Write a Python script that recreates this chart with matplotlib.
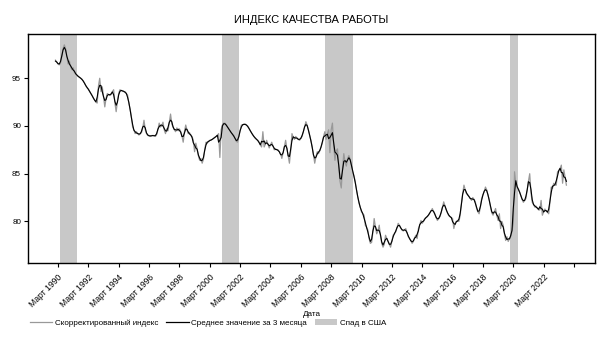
"""Job quality index chart (Russian labels), monthly 1990-2023."""

import matplotlib

matplotlib.use("Agg")
import matplotlib.pyplot as plt
import matplotlib.transforms as mtransforms
import numpy as np
import pandas as pd
from matplotlib.lines import Line2D
from matplotlib.patches import Patch

plt.rcParams["font.family"] = ["Liberation Sans", "DejaVu Sans"]

START_YEAR = 1990

# adjusted index, monthly values, one row per year (Jan..Dec)
adjusted_index = [
    96.9, 96.7, 96.5, 96.4, 96.6, 97.3, 98.1, 98.5, 98.1, 97.3, 96.5, 96.8,  # 1990
    96.2, 95.9, 96.1, 95.6, 95.5, 95.3, 95.2, 95.1, 95.0, 94.9, 94.7, 94.5,  # 1991
    94.2, 94.0, 93.9, 93.6, 93.4, 93.2, 92.9, 92.7, 92.5, 92.4, 94.2, 95.0,  # 1992
    93.6, 94.1, 93.1, 92.0, 92.9, 93.4, 93.3, 93.2, 93.3, 93.6, 93.8, 92.4,  # 1993
    91.5, 92.6, 93.4, 93.8, 93.7, 93.7, 93.6, 93.6, 93.4, 93.25, 92.4, 91.8,  # 1994
    91.0, 89.9, 89.6, 89.2, 89.4, 89.2, 89.05, 89.2, 89.3, 89.8, 90.6, 89.6,  # 1995
    89.2, 89.0, 89.0, 88.9, 89.0, 89.0, 89.0, 88.9, 89.1, 89.6, 90.3, 89.9,  # 1996
    90.0, 90.4, 89.6, 89.2, 89.7, 89.5, 90.4, 91.25, 90.2, 89.9, 89.6, 89.4,  # 1997
    89.8, 89.5, 89.7, 89.4, 89.0, 88.3, 89.4, 90.1, 89.6, 89.2, 89.3, 89.0,  # 1998
    88.9, 88.5, 87.3, 88.2, 87.6, 86.9, 86.4, 86.6, 86.1, 86.5, 87.5, 88.3,  # 1999
    88.2, 88.4, 88.5, 88.5, 88.6, 88.7, 88.8, 88.9, 89.0, 89.2, 86.7, 89.6,  # 2000
    90.1, 90.3, 90.3, 90.1, 89.9, 89.7, 89.5, 89.3, 89.1, 89.0, 88.7, 88.4,  # 2001
    88.3, 88.9, 89.5, 90.1, 90.1, 90.2, 90.2, 90.1, 90.0, 89.75, 89.5, 89.3,  # 2002
    89.05, 88.9, 88.7, 88.6, 88.5, 88.3, 88.0, 87.8, 89.4, 87.8, 88.1, 88.5,  # 2003
    88.1, 87.7, 88.0, 88.3, 87.9, 87.5, 87.6, 87.5, 87.5, 87.3, 87.1, 86.6,  # 2004
    87.2, 87.8, 88.5, 87.6, 86.9, 86.1, 87.4, 89.2, 88.8, 88.6, 88.9, 88.7,  # 2005
    88.6, 88.5, 88.7, 88.9, 89.4, 89.9, 90.45, 90.1, 89.6, 89.0, 88.5, 87.8,  # 2006
    87.0, 86.1, 86.8, 87.3, 87.1, 87.4, 87.8, 88.2, 88.9, 89.4, 88.6, 89.2,  # 2007
    89.6, 87.2, 89.6, 90.3, 88.0, 86.4, 87.4, 87.6, 85.8, 84.2, 83.5, 85.6,  # 2008
    87.1, 86.2, 85.8, 86.6, 86.9, 86.5, 86.0, 85.2, 84.8, 84.2, 83.3, 82.6,  # 2009
    81.9, 81.5, 81.0, 80.8, 80.65, 79.6, 79.4, 79.1, 78.2, 77.7, 77.8, 78.9,  # 2010
    80.3, 79.4, 78.7, 79.0, 79.6, 78.5, 77.7, 77.3, 77.6, 78.55, 78.2, 77.9,  # 2011
    77.6, 77.3, 77.9, 78.55, 78.7, 78.9, 79.3, 79.8, 79.6, 79.3, 79.1, 79.0,  # 2012
    79.1, 79.25, 78.8, 78.4, 78.2, 78.0, 77.7, 77.9, 78.3, 78.55, 78.2, 79.25,  # 2013
    79.6, 80.1, 79.8, 80.0, 80.3, 80.4, 80.5, 80.65, 80.9, 81.1, 81.35, 81.0,  # 2014
    80.8, 80.4, 80.1, 80.3, 80.5, 80.9, 81.5, 82.05, 81.6, 81.2, 80.9, 80.6,  # 2015
    80.5, 80.4, 80.3, 79.25, 79.8, 80.0, 80.1, 80.0, 80.6, 81.9, 82.9, 83.8,  # 2016
    83.3, 82.9, 82.8, 82.6, 82.4, 82.2, 82.5, 82.3, 82.05, 81.35, 81.0, 80.8,  # 2017
    81.5, 82.4, 82.8, 83.1, 83.6, 83.3, 82.75, 82.3, 81.5, 80.9, 80.65, 81.0,  # 2018
    81.35, 80.6, 80.1, 80.8, 79.25, 80.0, 79.6, 78.7, 78.0, 78.4, 77.9, 78.2,  # 2019
    78.4, 79.0, 79.8, 85.2, 84.0, 83.6, 83.4, 83.1, 82.7, 82.3, 82.0, 82.2,  # 2020
    82.4, 83.3, 84.2, 85.0, 83.0, 82.0, 81.8, 81.5, 81.6, 81.4, 81.2, 81.2,  # 2021
    82.2, 80.65, 81.0, 81.3, 81.1, 81.0, 80.8, 82.0, 83.6, 83.45, 84.0, 83.8,  # 2022
    83.8, 85.2, 85.3, 85.5, 85.9, 84.0, 85.4, 84.6, 83.8,  # 2023 (to Sep)
]

# shaded recession periods (decimal years, as drawn in the source chart)
recession_start = [1990.30, 2000.97, 2007.76, 2019.95]
recession_end = [1991.42, 2002.09, 2009.58, 2020.45]

tick_years = list(range(1990, 2025, 2))
tick_labels = [f"Март {y}" if y <= 2022 else "" for y in tick_years]

GRAY_LINE = "#999999"
BAND = "#c8c8c8"


def main() -> None:
    values = pd.Series(adjusted_index)
    avg3 = values.rolling(3, center=True, min_periods=1).mean()
    x = START_YEAR + np.arange(len(values)) / 12.0

    fig = plt.figure(figsize=(6.06, 3.43), dpi=100)
    ax = fig.add_axes([0.0462, 0.2332, 0.9356, 0.6677])

    for s, e in zip(recession_start, recession_end):
        ax.axvspan(s, e, color=BAND, lw=0, zorder=0)

    ax.plot(x, values, color=GRAY_LINE, lw=0.9, zorder=2)
    ax.plot(x, avg3, color="black", lw=0.8, zorder=3)

    ax.set_xlim(1988.19, 2025.55)
    ax.set_ylim(75.64, 99.64)
    ax.set_yticks([80, 85, 90, 95])
    ax.set_xticks([y + 2 / 12 for y in tick_years])
    ax.set_xticklabels(tick_labels, rotation=45, ha="right",
                       rotation_mode="anchor", fontsize=6.2)
    # labels in the source sit a little to the right of their ticks
    shift = mtransforms.ScaledTranslation(6 / 100, 0, fig.dpi_scale_trans)
    for label in ax.get_xticklabels():
        label.set_transform(label.get_transform() + shift)
    ax.tick_params(axis="y", labelsize=5.8, length=3, width=0.8, pad=2)
    ax.tick_params(axis="x", length=3, width=0.8, pad=4)
    for spine in ax.spines.values():
        spine.set_linewidth(1.0)
        spine.set_color("black")

    ax.set_xlabel("Дата", fontsize=5.8, labelpad=1)
    ax.set_title("ИНДЕКС КАЧЕСТВА РАБОТЫ", fontsize=8, pad=8)

    handles = [
        Line2D([], [], color=GRAY_LINE, lw=0.9),
        Line2D([], [], color="black", lw=0.9),
        Patch(facecolor=BAND, edgecolor="none"),
    ]
    labels = ["Скорректированный индекс", "Среднее значение за 3 месяца",
              "Спад в США"]
    fig.legend(handles, labels, loc="center left", bbox_to_anchor=(0.037, 0.058),
               ncol=3, frameon=False, fontsize=5.8, handlelength=2.8,
               handletextpad=0.3, columnspacing=1.0)

    fig.savefig("out.png", dpi=100)
    plt.close(fig)


if __name__ == "__main__":
    main()
